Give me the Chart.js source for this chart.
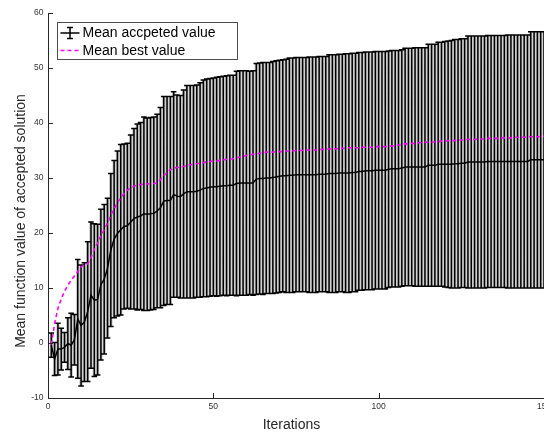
<!DOCTYPE html>
<html>
<head>
<meta charset="utf-8">
<script src="https://cdn.jsdelivr.net/npm/chart.js@4/dist/chart.umd.min.js"></script>
<style>
  html, body { margin: 0; padding: 0; background: #fff; overflow: hidden; }
  canvas { display: block; }
</style>
</head>
<body>
<canvas id="chart" width="544" height="432"></canvas>
<script>
// values, one per iteration (1..150)
const meanAccepted = [
  -0.4, -2.9, -1.1, -1.1, -0.8, -0.1, -0.4, 0.6, 4.4, 3.2,
  3.8, 5.7, 8.7, 7.8, 7.9, 10.6, 11.6, 13.6, 16.9, 18.9,
  19.9, 20.6, 21.2, 21.3, 22.0, 22.6, 22.9, 23.1, 23.5, 23.4,
  23.5, 23.6, 24.0, 24.6, 25.8, 25.9, 25.9, 27.0, 26.7, 26.6,
  27.1, 27.5, 27.5, 27.5, 27.6, 27.8, 28.1, 28.2, 28.3, 28.4,
  28.4, 28.5, 28.6, 28.6, 28.7, 28.7, 29.0, 29.1, 29.1, 29.1,
  29.1, 29.1, 29.8, 29.9, 29.9, 30.0, 30.0, 30.1, 30.2, 30.3,
  30.4, 30.4, 30.5, 30.5, 30.6, 30.6, 30.6, 30.6, 30.6, 30.6,
  30.6, 30.7, 30.7, 30.7, 30.8, 30.8, 30.8, 30.9, 30.9, 30.9,
  30.9, 31.0, 31.0, 31.2, 31.2, 31.3, 31.3, 31.3, 31.4, 31.4,
  31.4, 31.4, 31.6, 31.7, 31.7, 31.7, 31.8, 32.0, 32.0, 32.0,
  32.0, 32.0, 32.0, 32.0, 32.3, 32.3, 32.3, 32.5, 32.5, 32.5,
  32.5, 32.5, 32.6, 32.6, 32.7, 32.7, 32.9, 32.9, 32.9, 32.9,
  32.9, 32.9, 33.0, 33.0, 33.0, 33.0, 33.0, 33.0, 33.0, 33.0,
  33.0, 33.0, 33.0, 33.0, 33.0, 33.3, 33.3, 33.3, 33.3, 33.3
];

const errAccepted = [
  2.2, 3.0, 4.7, 3.8, 2.7, 4.7, 5.8, 4.6, 10.8, 11.0,
  10.8, 12.7, 13.3, 13.9, 13.7, 13.7, 13.6, 12.7, 13.9, 14.3,
  15.0, 15.5, 15.0, 15.0, 15.8, 16.4, 16.9, 17.0, 17.6, 17.5,
  17.5, 17.5, 17.6, 18.2, 19.0, 18.9, 18.9, 18.7, 18.4, 18.4,
  18.9, 19.3, 19.3, 19.3, 19.3, 19.5, 19.7, 19.8, 19.8, 19.8,
  19.9, 19.9, 19.9, 20.0, 20.0, 20.0, 20.4, 20.4, 20.4, 20.4,
  20.3, 20.4, 21.0, 21.0, 21.1, 21.0, 21.0, 21.1, 21.1, 21.1,
  21.1, 21.2, 21.3, 21.3, 21.3, 21.3, 21.3, 21.3, 21.4, 21.4,
  21.4, 21.4, 21.4, 21.4, 21.6, 21.6, 21.6, 21.6, 21.6, 21.7,
  21.7, 21.7, 21.7, 21.6, 21.6, 21.6, 21.6, 21.6, 21.6, 21.6,
  21.6, 21.6, 21.5, 21.5, 21.5, 21.5, 21.5, 21.6, 21.6, 21.6,
  21.7, 21.7, 21.7, 21.7, 22.0, 22.0, 22.0, 22.2, 22.2, 22.3,
  22.4, 22.5, 22.6, 22.6, 22.6, 22.6, 22.9, 22.9, 22.9, 22.9,
  22.9, 22.9, 22.9, 22.9, 22.9, 22.9, 22.9, 22.9, 23.0, 23.0,
  23.0, 23.0, 23.0, 23.0, 23.0, 23.3, 23.3, 23.3, 23.3, 23.3
];

const bestValue = [
  -0.3, 3.5, 6.3, 8.0, 9.4, 10.5, 11.4, 12.2, 13.0, 13.8,
  14.2, 14.4, 15.5, 17.0, 18.2, 19.5, 20.6, 21.8, 23.2, 24.4,
  25.5, 26.4, 27.2, 27.8, 28.2, 28.5, 28.7, 28.8, 28.9, 28.9,
  29.0, 29.0, 29.1, 29.7, 30.4, 31.0, 31.5, 31.8, 31.9, 32.0,
  32.1, 32.3, 32.4, 32.5, 32.6, 32.7, 32.8, 32.9, 33.0, 33.1,
  33.1, 33.2, 33.3, 33.4, 33.4, 33.5, 33.7, 33.8, 33.9, 34.1,
  34.2, 34.3, 34.4, 34.5, 34.6, 34.7, 34.7, 34.7, 34.8, 34.8,
  34.8, 34.9, 34.9, 34.9, 35.0, 35.0, 35.0, 35.1, 35.1, 35.1,
  35.1, 35.2, 35.2, 35.2, 35.3, 35.3, 35.3, 35.4, 35.4, 35.4,
  35.5, 35.5, 35.5, 35.5, 35.6, 35.6, 35.6, 35.6, 35.7, 35.7,
  35.7, 35.7, 35.8, 35.8, 35.9, 36.0, 36.1, 36.2, 36.2, 36.3,
  36.3, 36.4, 36.4, 36.5, 36.5, 36.5, 36.6, 36.6, 36.7, 36.7,
  36.8, 36.8, 36.8, 36.9, 36.9, 36.9, 37.0, 37.0, 37.0, 37.1,
  37.1, 37.1, 37.2, 37.2, 37.2, 37.2, 37.3, 37.3, 37.3, 37.3,
  37.4, 37.4, 37.4, 37.4, 37.5, 37.5, 37.5, 37.5, 37.5, 37.6
];

const xTicks = [0, 50, 100, 150];
const yTicks = [-10, 0, 10, 20, 30, 40, 50, 60];
const legendLabels = ['Mean accpeted value', 'Mean best value'];
const xTitle = 'Iterations';
const yTitle = 'Mean function value of accepted solution';

const FONT = '"Liberation Sans", Arial, Helvetica, sans-serif';
const AXIS = '#262626';

// points keyed by iteration number
const toPoints = arr => arr.map((v, i) => ({ x: i + 1, y: v }));

// grey band + black error bars, drawn under the lines
const errorBars = {
  id: 'errorBars',
  beforeDatasetsDraw(chart) {
    const { ctx, chartArea: a, scales: { x, y } } = chart;
    const half = (x.getPixelForValue(1) - x.getPixelForValue(0)) / 2;
    const cap = 2.8;
    ctx.save();
    ctx.beginPath();
    ctx.rect(a.left, a.top - 3, a.right - a.left, a.bottom - a.top + 3);
    ctx.clip();

    ctx.fillStyle = '#c6c6c6';
    meanAccepted.forEach((m, i) => {
      const px = x.getPixelForValue(i + 1);
      const top = y.getPixelForValue(m + errAccepted[i]);
      const bot = y.getPixelForValue(m - errAccepted[i]);
      ctx.fillRect(px - half, top, half * 2, bot - top);
    });

    ctx.strokeStyle = '#000';
    ctx.lineWidth = 1.5;
    ctx.beginPath();
    meanAccepted.forEach((m, i) => {
      const px = x.getPixelForValue(i + 1);
      const top = y.getPixelForValue(m + errAccepted[i]);
      const bot = y.getPixelForValue(m - errAccepted[i]);
      ctx.moveTo(px, top); ctx.lineTo(px, bot);
      ctx.moveTo(px - cap, top); ctx.lineTo(px + cap, top);
      ctx.moveTo(px - cap, bot); ctx.lineTo(px + cap, bot);
    });
    ctx.stroke();
    ctx.restore();
  }
};

// MATLAB style inward ticks, axis titles and the boxed legend
const axesExtras = {
  id: 'axesExtras',
  afterDraw(chart) {
    const { ctx, chartArea: a, scales: { x, y } } = chart;
    ctx.save();
    ctx.strokeStyle = AXIS;
    ctx.lineWidth = 1;
    ctx.beginPath();
    x.ticks.forEach(t => {
      const px = Math.round(x.getPixelForValue(t.value)) + 0.5;
      ctx.moveTo(px, a.bottom); ctx.lineTo(px, a.bottom - 5);
    });
    y.ticks.forEach(t => {
      const py = Math.round(y.getPixelForValue(t.value)) + 0.5;
      ctx.moveTo(a.left, py); ctx.lineTo(a.left + 5, py);
    });
    ctx.stroke();

    // axis titles
    ctx.fillStyle = AXIS;
    ctx.font = '14px ' + FONT;
    ctx.textAlign = 'center';
    ctx.textBaseline = 'alphabetic';
    ctx.fillText(xTitle, (a.left + a.right) / 2 - 4.5, a.bottom + 30.5);
    ctx.save();
    ctx.translate(a.left - 23, (a.top + a.bottom) / 2 + 15.5);
    ctx.rotate(-Math.PI / 2);
    ctx.fillText(yTitle, 0, 0);
    ctx.restore();

    // legend box
    const lx = a.left + 9.5, ly = a.top + 9.5;
    ctx.fillStyle = '#fff';
    ctx.fillRect(lx, ly, 180, 37);
    ctx.strokeStyle = '#4d4d4d';
    ctx.strokeRect(lx, ly, 180, 37);

    // errorbar icon
    const r1 = ly + 10.5;
    ctx.strokeStyle = '#000';
    ctx.lineWidth = 1.5;
    ctx.beginPath();
    ctx.moveTo(lx + 3, r1); ctx.lineTo(lx + 22, r1);
    ctx.moveTo(lx + 12.5, r1 - 5.5); ctx.lineTo(lx + 12.5, r1 + 5.5);
    ctx.moveTo(lx + 9.5, r1 - 5.5); ctx.lineTo(lx + 15.5, r1 - 5.5);
    ctx.moveTo(lx + 9.5, r1 + 5.5); ctx.lineTo(lx + 15.5, r1 + 5.5);
    ctx.stroke();

    // dashed icon
    const r2 = ly + 28;
    ctx.strokeStyle = '#ff00ff';
    ctx.setLineDash([4, 3]);
    ctx.beginPath();
    ctx.moveTo(lx + 3, r2); ctx.lineTo(lx + 21, r2);
    ctx.stroke();
    ctx.setLineDash([]);

    ctx.fillStyle = '#000';
    ctx.textAlign = 'left';
    ctx.fillText(legendLabels[0], lx + 25, ly + 14.5);
    ctx.fillText(legendLabels[1], lx + 25, ly + 32);
    ctx.restore();
  }
};

new Chart(document.getElementById('chart'), {
  type: 'line',
  data: {
    datasets: [
      {
        label: legendLabels[1],
        data: toPoints(bestValue),
        borderColor: '#ff00ff',
        borderWidth: 1.6,
        borderDash: [4, 3],
        pointRadius: 0,
        tension: 0,
        fill: false
      },
      {
        label: legendLabels[0],
        data: toPoints(meanAccepted),
        borderColor: '#000',
        borderWidth: 1.5,
        pointRadius: 0,
        tension: 0,
        fill: false
      }
    ]
  },
  options: {
    responsive: false,
    animation: false,
    devicePixelRatio: 1,
    layout: { padding: { top: 13, left: 0, right: 0, bottom: 0 } },
    plugins: { legend: { display: false }, tooltip: { enabled: false } },
    scales: {
      x: {
        type: 'linear',
        min: 0,
        max: 150,
        afterBuildTicks: s => { s.ticks = xTicks.map(v => ({ value: v })); },
        afterFit: s => { s.height = 34; s.paddingLeft = 0; s.paddingRight = 0; },
        grid: { display: false, drawTicks: false },
        border: { display: true, color: AXIS, width: 1 },
        ticks: { color: '#333', padding: 4, maxRotation: 0, font: { family: FONT, size: 8.5 } },
        title: { display: false }
      },
      y: {
        min: -10,
        max: 60,
        afterBuildTicks: s => { s.ticks = yTicks.map(v => ({ value: v })); },
        afterFit: s => { s.width = 48; s.paddingTop = 0; s.paddingBottom = 0; },
        grid: { display: false, drawTicks: false },
        border: { display: true, color: AXIS, width: 1 },
        ticks: { color: '#333', padding: 4.5, font: { family: FONT, size: 8.5 } },
        title: { display: false }
      }
    }
  },
  plugins: [errorBars, axesExtras]
});
</script>
</body>
</html>
